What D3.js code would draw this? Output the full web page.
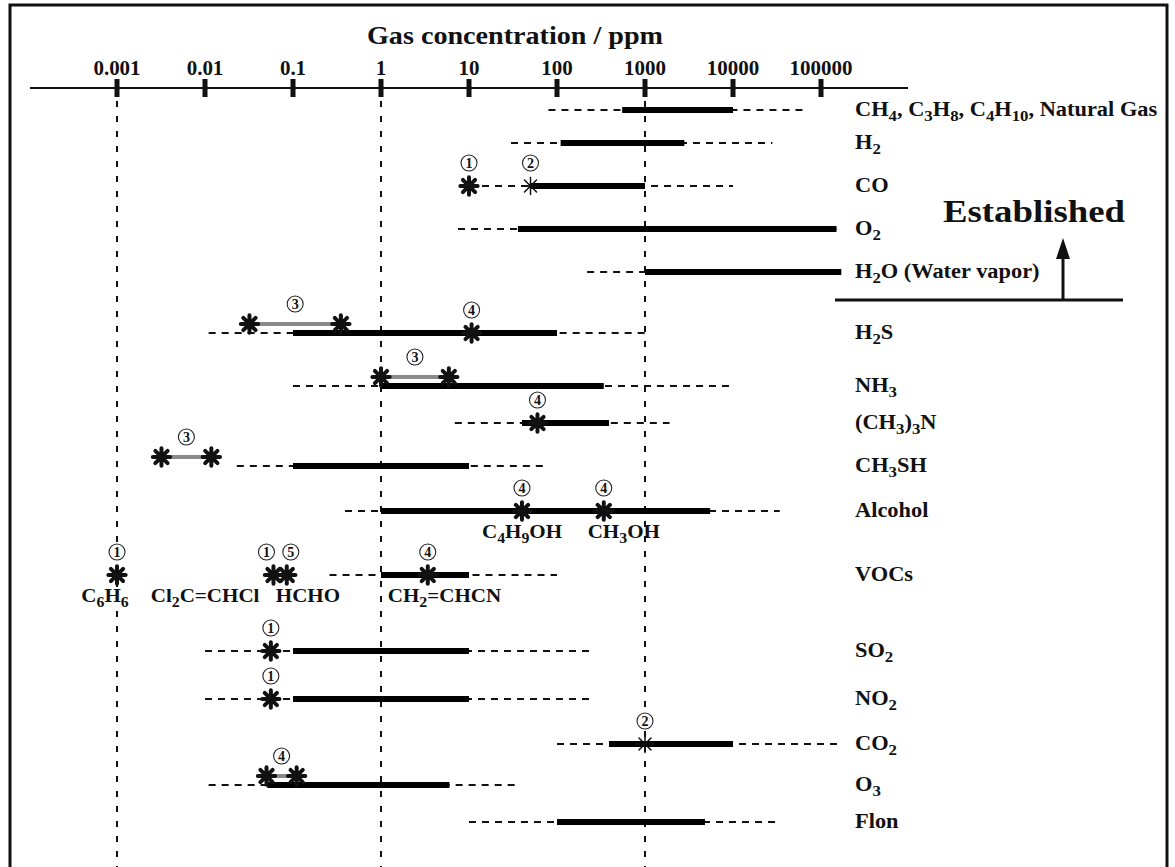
<!DOCTYPE html>
<html>
<head>
<meta charset="utf-8">
<script src="https://cdn.jsdelivr.net/npm/d3@7"></script>
<style>
  body { margin: 0; background: #fff; }
  svg { display: block; }
  text { font-family: "Liberation Serif", "Times New Roman", serif; font-weight: bold; fill: #111; }
</style>
</head>
<body>
<div id="chart"></div>
<script>
// ---- data (ppm) ----
const gasKeys = ["CH4", "H2", "CO", "O2", "H2O", "H2S", "NH3", "TMA", "CH3SH", "Alcohol", "VOCs", "SO2", "NO2", "CO2", "O3", "Flon"];
const gasLabels = ["CH_4, C_3H_8, C_4H_10, Natural Gas", "H_2", "CO", "O_2", "H_2O (Water vapor)", "H_2S", "NH_3",
    "(CH_3)_3N", "CH_3SH", "Alcohol", "VOCs", "SO_2", "NO_2", "CO_2", "O_3", "Flon"];
const detectLow  = [80, 30, 10, 7.5, 220, 0.011, 0.1, 6.9, 0.023, 0.39, 0.26, 0.01, 0.01, 100, 0.011, 10];
const detectHigh = [70000, 28000, 10000, 150000, 170000, 1000, 10000, 1900, 78, 34000, 100, 270, 270, 160000, 35, 33000];
const rangeLow   = [550, 110, 50, 36, 1000, 0.1, 1, 40, 0.1, 1, 1, 0.1, 0.1, 390, 0.051, 100];
const rangeHigh  = [10000, 2800, 1000, 150000, 170000, 100, 340, 390, 10, 5500, 10, 10, 10, 10000, 6, 4800];

// asterisk markers
const starGas   = ["CO", "CO", "H2S", "H2S", "H2S", "NH3", "NH3", "TMA", "CH3SH", "CH3SH", "Alcohol", "Alcohol",
    "VOCs", "VOCs", "VOCs", "VOCs", "SO2", "NO2", "CO2", "O3", "O3"];
const starValue = [10, 50, 0.032, 0.35, 10.7, 1, 5.9, 60, 0.0032, 0.0118, 40, 340,
    0.001, 0.06, 0.085, 3.4, 0.056, 0.056, 1000, 0.05, 0.11];
const starKind  = ["bold", "thin", "bold", "bold", "bold", "bold", "bold", "bold", "bold", "bold", "bold", "bold",
    "bold", "bold", "bold", "bold", "bold", "bold", "thin", "bold", "bold"];

// grey segments between two asterisks
const grayGas  = ["H2S", "NH3", "CH3SH", "O3"];
const grayFrom = [0.032, 1, 0.0032, 0.05];
const grayTo   = [0.35, 5.9, 0.0118, 0.11];
const grayRef  = ["3", "3", "3", "4"];

// circled reference numbers on single asterisks
const refGas   = ["CO", "CO", "H2S", "TMA", "Alcohol", "Alcohol", "VOCs", "VOCs", "VOCs", "VOCs", "SO2", "NO2", "CO2"];
const refValue = [10, 50, 10.7, 60, 40, 340, 0.001, 0.06, 0.085, 3.4, 0.056, 0.056, 1000];
const refMark  = ["1", "2", "4", "4", "4", "4", "1", "1", "5", "4", "1", "1", "2"];

// compound names under Alcohol / VOCs
const noteGas   = ["Alcohol", "Alcohol", "VOCs", "VOCs", "VOCs", "VOCs"];
const noteValue = [40, 340, 0.001, 0.06, 0.085, 3.4];
const noteText  = ["C_4H_9OH", "CH_3OH", "C_6H_6", "Cl_2C=CHCl", "HCHO", "CH_2=CHCN"];

const tickValues = [0.001, 0.01, 0.1, 1, 10, 100, 1000, 10000, 100000];
const tickLabels = ["0.001", "0.01", "0.1", "1", "10", "100", "1000", "10000", "100000"];
const guideValues = [0.001, 1, 1000];

// ---- layout ----
const width = 1175, height = 867;
const axisY = 88;
const noteLayout = {
    "C_4H_9OH": ["middle", 0], "CH_3OH": ["middle", 20], "C_6H_6": ["middle", -12],
    "Cl_2C=CHCl": ["end", -14], "HCHO": ["start", -11], "CH_2=CHCN": ["start", -40]
};
const refNudge = { 7: -7, 8: 4 };   // spread the crowded 1 / 5 pair over VOCs

const svg = d3.select("#chart").append("svg")
    .attr("width", width)
    .attr("height", height);

const x = d3.scaleLog().domain([0.001, 100000]).range([117, 821]);
const y = d3.scaleOrdinal()
    .domain(gasKeys)
    .range([110, 143, 186, 229, 272, 333, 386, 423, 466, 511, 575, 651, 699, 744, 785, 822]);

// writes "CH_4" style strings with subscripts
function richText(sel, str, size) {
    const parts = str.split(/(_\d+)/).filter(p => p !== "");
    let shifted = false;
    parts.forEach(p => {
        if (p.startsWith("_")) {
            sel.append("tspan").attr("font-size", size * 0.75).attr("dy", shifted ? 0 : 5).text(p.slice(1));
            shifted = true;
        } else {
            sel.append("tspan").attr("dy", shifted ? -5 : 0).text(p);
            shifted = false;
        }
    });
}

function putText(g, str, px, py, size, anchor, stretch) {
    const t = g.append("text")
        .attr("transform", `translate(${px},${py}) scale(${stretch || 1.1},1)`)
        .attr("font-size", size)
        .attr("text-anchor", anchor || "start");
    richText(t, str, size);
    return t;
}

// circled digit, like the reference marks in the figure
function circled(g, px, py, digit) {
    const c = g.append("g").attr("transform", `translate(${px},${py})`);
    c.append("circle")
        .attr("r", 8)
        .attr("fill", "#fff")
        .attr("stroke", "#222")
        .attr("stroke-width", 1.1);
    c.append("text")
        .attr("y", 4.8)
        .attr("text-anchor", "middle")
        .attr("font-size", 14)
        .attr("font-weight", "normal")
        .text(digit);
}

// asterisk symbols
const asterisk = (spokes) => ({
    draw(ctx, size) {
        const r = Math.sqrt(size) / 2;
        for (let k = 0; k < spokes; k++) {
            const a = Math.PI / 2 + k * Math.PI / spokes;
            ctx.moveTo(r * Math.cos(a), r * Math.sin(a));
            ctx.lineTo(-r * Math.cos(a), -r * Math.sin(a));
        }
    }
});
const starSymbol = {
    bold: d3.symbol().type(asterisk(4)).size(300)(),
    thin: d3.symbol().type(asterisk(4)).size(290)()
};

// frame
svg.append("rect")
    .attr("x", 10).attr("y", 5)
    .attr("width", 1157).attr("height", 920)
    .attr("fill", "none")
    .attr("stroke", "#111")
    .attr("stroke-width", 3);

// title + axis
svg.append("text")
    .attr("x", 367).attr("y", 44)
    .attr("font-size", 25)
    .attr("textLength", 296)
    .attr("lengthAdjust", "spacingAndGlyphs")
    .text("Gas concentration / ppm");

svg.append("line")
    .attr("x1", 30).attr("x2", 908)
    .attr("y1", axisY).attr("y2", axisY)
    .attr("stroke", "#111").attr("stroke-width", 2);

const ticks = svg.append("g");
ticks.selectAll("rect")
    .data(tickValues)
    .join("rect")
    .attr("x", d => x(d) - 2.5)
    .attr("y", axisY - 9)
    .attr("width", 5)
    .attr("height", 18)
    .attr("fill", "#111");
tickValues.forEach((d, i) => putText(ticks, tickLabels[i], x(d), 75, 20, "middle", 1.05));

// vertical guides
svg.append("g").selectAll("line")
    .data(guideValues)
    .join("line")
    .attr("x1", d => x(d)).attr("x2", d => x(d))
    .attr("y1", 101).attr("y2", height)
    .attr("stroke", "#111")
    .attr("stroke-width", 2)
    .attr("stroke-dasharray", "6,9");

// detection ranges (dashed) and working ranges (solid)
const rows = svg.append("g");
rows.selectAll("line.detect")
    .data(gasKeys)
    .join("line")
    .attr("class", "detect")
    .attr("x1", (d, i) => x(detectLow[i]))
    .attr("x2", (d, i) => x(detectHigh[i]))
    .attr("y1", d => y(d)).attr("y2", d => y(d))
    .attr("stroke", "#111")
    .attr("stroke-width", 2)
    .attr("stroke-dasharray", "7,6");

rows.selectAll("line.range")
    .data(gasKeys)
    .join("line")
    .attr("class", "range")
    .attr("x1", (d, i) => x(rangeLow[i]))
    .attr("x2", (d, i) => x(rangeHigh[i]))
    .attr("y1", d => y(d)).attr("y2", d => y(d))
    .attr("stroke", "#000")
    .attr("stroke-width", 6);

// grey segments
const grayUp = 9;
rows.selectAll("line.gray")
    .data(grayGas)
    .join("line")
    .attr("class", "gray")
    .attr("x1", (d, i) => x(grayFrom[i]))
    .attr("x2", (d, i) => x(grayTo[i]))
    .attr("y1", d => y(d) - grayUp).attr("y2", d => y(d) - grayUp)
    .attr("stroke", "#8a8a8a")
    .attr("stroke-width", 4);

const onGray = (g, v) => grayGas.some((k, i) => k === g && (grayFrom[i] === v || grayTo[i] === v));

// asterisks
rows.selectAll("path.star")
    .data(starGas)
    .join("path")
    .attr("class", "star")
    .attr("transform", (d, i) => `translate(${x(starValue[i])},${y(d) - (onGray(d, starValue[i]) ? grayUp : 0)})`)
    .attr("d", (d, i) => starSymbol[starKind[i]])
    .attr("fill", "none")
    .attr("stroke", "#111")
    .attr("stroke-linecap", "round")
    .attr("stroke-width", (d, i) => starKind[i] === "bold" ? 4 : 1.5);

// circled reference numbers
const refs = svg.append("g");
refGas.forEach((g, i) => circled(refs, x(refValue[i]) + (refNudge[i] || 0), y(g) - 23, refMark[i]));
grayGas.forEach((g, i) => circled(refs, x(Math.sqrt(grayFrom[i] * grayTo[i])), y(g) - 29, grayRef[i]));

// compound names
const notes = svg.append("g");
noteText.forEach((t, i) => {
    const [anchor, dx] = noteLayout[t];
    putText(notes, t, x(noteValue[i]) + dx, y(noteGas[i]) + 27, 19.5, anchor, 1.08);
});

// gas labels on the right
const labels = svg.append("g");
gasKeys.forEach((k, i) => putText(labels, gasLabels[i], 855, y(k) + 6, 20, "start", 1.12));

// "Established" marker
svg.append("line")
    .attr("x1", 835).attr("x2", 1123)
    .attr("y1", 300).attr("y2", 300)
    .attr("stroke", "#111").attr("stroke-width", 3);
svg.append("line")
    .attr("x1", 1063).attr("x2", 1063)
    .attr("y1", 300).attr("y2", 255)
    .attr("stroke", "#111").attr("stroke-width", 3);
svg.append("path")
    .attr("d", "M1063,238 L1056,259 L1070,259 Z")
    .attr("fill", "#111");
svg.append("text")
    .attr("x", 943).attr("y", 222)
    .attr("font-size", 31)
    .attr("textLength", 182)
    .attr("lengthAdjust", "spacingAndGlyphs")
    .text("Established");
</script>
</body>
</html>
